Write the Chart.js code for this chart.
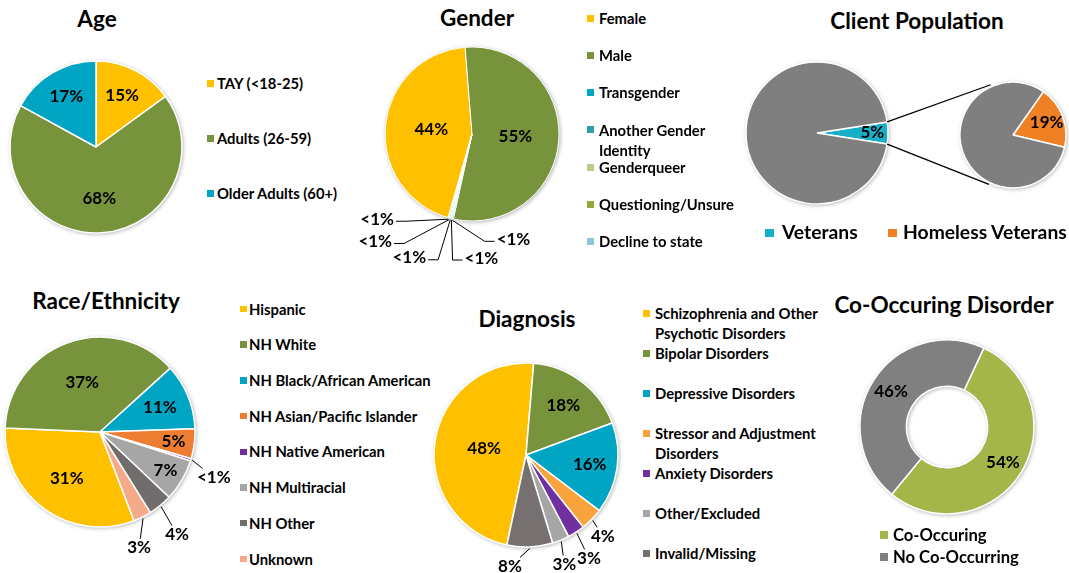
<!DOCTYPE html>
<html>
<head>
<meta charset="utf-8">
<script src="https://cdn.jsdelivr.net/npm/chart.js@4.4.1/dist/chart.umd.min.js"></script>
<style>
  body { margin: 0; width: 1069px; height: 573px; background: #fff; position: relative; overflow: hidden;
         font-family: Lato, "Open Sans", sans-serif; color: #000; }
  canvas { position: absolute; }
  .title { position: absolute; width: 320px; text-align: center; font-weight: bold; white-space: nowrap; }
  .leg { position: absolute; font-weight: bold; }
  .sq { position: absolute; }
</style>
</head>
<body>
<script>
// ---- data ----
var ageLabels = ['TAY (<18-25)', 'Adults (26-59)', 'Older Adults (60+)'];
var ageValues = [15, 68, 17];
var ageColors = ['#FFC000', '#77933C', '#00A5C3'];

var genderLabels = ['Female', 'Male', 'Transgender', 'Another Gender Identity', 'Genderqueer', 'Questioning/Unsure', 'Decline to state'];
var genderValues = [44.3, 54.7, 0.2, 0.2, 0.2, 0.2, 0.2];
var genderColors = ['#FFC000', '#77933C', '#00A5C3', '#2E9FA8', '#B5CC8E', '#8FA73B', '#8CC4DA'];

var clientLabels = ['Veterans', 'Homeless Veterans'];
var veteranShare = [5, 95];     // veterans vs. rest of clients
var homelessShare = [19, 81];   // homeless vs. rest of veterans
var clientColors = ['#17AFC8', '#F08024'];
var restColor = '#7F7F7F';

var raceLabels = ['Hispanic', 'NH White', 'NH Black/African American', 'NH Asian/Pacific Islander', 'NH Native American', 'NH Multiracial', 'NH Other', 'Unknown'];
var raceValues = [31, 37, 11, 5, 0.4, 7, 4, 3];
var raceColors = ['#FFC000', '#77933C', '#00A5C3', '#ED7D31', '#7030A0', '#A6A6A6', '#726D6D', '#F4A989'];

var diagLabels = ['Schizophrenia and Other Psychotic Disorders', 'Bipolar Disorders', 'Depressive Disorders', 'Stressor and Adjustment Disorders', 'Anxiety Disorders', 'Other/Excluded', 'Invalid/Missing'];
var diagValues = [48, 18, 16, 4, 3, 3, 8];
var diagColors = ['#FFC000', '#77933C', '#00A5C3', '#F9A33C', '#7030A0', '#A6A6A6', '#767070'];

var coLabels = ['Co-Occuring', 'No Co-Occurring'];
var coValues = [54, 46];
var coColors = ['#A4B64A', '#808080'];

// ---- plugins ----
var pieShadow = {
  id: 'pieShadow',
  beforeDatasetsDraw: function (chart) {
    var arc = chart.getDatasetMeta(0).data[0];
    var ctx = chart.ctx;
    ctx.save();
    ctx.shadowColor = 'rgba(0,0,0,0.35)';
    ctx.shadowBlur = 4;
    ctx.shadowOffsetX = 1;
    ctx.shadowOffsetY = 1;
    ctx.fillStyle = '#fff';
    ctx.beginPath();
    ctx.arc(arc.x, arc.y, arc.outerRadius, 0, Math.PI * 2);
    if (arc.innerRadius > 0) {
      ctx.moveTo(arc.x + arc.innerRadius, arc.y);
      ctx.arc(arc.x, arc.y, arc.innerRadius, 0, Math.PI * 2, true);
    }
    ctx.fill();
    ctx.restore();
  }
};

// percent labels, inside (radial fraction) or outside with a leader ([dx, dy] from slice edge)
var sliceText = {
  id: 'sliceText',
  afterDatasetsDraw: function (chart, args, opts) {
    var meta = chart.getDatasetMeta(0);
    var values = chart.data.datasets[0].data;
    var ctx = chart.ctx;
    ctx.save();
    ctx.font = 'bold ' + (opts.size || 17) + 'px Lato, sans-serif';
    ctx.textAlign = 'center';
    ctx.textBaseline = 'middle';
    ctx.fillStyle = '#000';
    ctx.strokeStyle = '#000';
    ctx.lineWidth = 1;
    meta.data.forEach(function (arc, i) {
      var spot = opts.spots[i];
      if (spot == null) return;
      var v = values[i];
      var text = v < 1 ? '<1%' : Math.round(v) + '%';
      var mid = (arc.startAngle + arc.endAngle) / 2;
      var cos = Math.cos(mid), sin = Math.sin(mid);
      if (typeof spot === 'number') {
        ctx.fillText(text, arc.x + cos * arc.outerRadius * spot, arc.y + sin * arc.outerRadius * spot);
        return;
      }
      var ax = arc.x + cos * (arc.outerRadius + 1.5);
      var ay = arc.y + sin * (arc.outerRadius + 1.5);
      var lx = ax + spot[0], ly = ay + spot[1];
      var w = ctx.measureText(text).width;
      ctx.beginPath();
      ctx.moveTo(ax, ay);
      if (opts.leader === 'elbow') {
        var side = lx > ax ? 1 : -1;
        var ex = lx - side * (w / 2 + 2), ey = ly + 2;
        ctx.lineTo(ex - side * 10, ey);
        ctx.lineTo(ex, ey);
      } else {
        var dx = ax - lx, dy = ay - ly;
        var t = Math.min((w / 2 + 3) / Math.max(Math.abs(dx), 1e-6), 9 / Math.max(Math.abs(dy), 1e-6));
        ctx.lineTo(lx + dx * t, ly + dy * t);
      }
      ctx.stroke();
      ctx.fillText(text, lx, ly);
    });
    ctx.restore();
  }
};

// ---- helpers ----
function makePie(cfg) {
  var c = document.createElement('canvas');
  c.id = cfg.id;
  c.width = cfg.box[2];
  c.height = cfg.box[3];
  c.style.left = cfg.box[0] + 'px';
  c.style.top = cfg.box[1] + 'px';
  document.body.appendChild(c);
  var ux = cfg.cx - cfg.box[0], uy = cfg.cy - cfg.box[1];
  var W = cfg.box[2], H = cfg.box[3];
  var pad = {
    left: ux > W / 2 ? 2 * ux - W : 0,
    right: ux > W / 2 ? 0 : W - 2 * ux,
    top: uy > H / 2 ? 2 * uy - H : 0,
    bottom: uy > H / 2 ? 0 : H - 2 * uy
  };
  return new Chart(c, {
    type: 'doughnut',
    data: {
      labels: cfg.labels,
      datasets: [{
        data: cfg.values,
        backgroundColor: cfg.colors,
        borderColor: '#fff',
        borderWidth: cfg.border || 1.5
      }]
    },
    options: {
      responsive: false,
      animation: false,
      events: [],
      radius: cfg.radius,
      cutout: cfg.cutout || 0,
      rotation: cfg.rotation || 0,
      layout: { padding: pad },
      plugins: {
        legend: { display: false },
        tooltip: { enabled: false },
        sliceText: { spots: cfg.spots, leader: cfg.leader }
      }
    },
    plugins: [pieShadow, sliceText].concat(cfg.plugins || [])
  });
}

function addTitle(text, cx, baseline, fs) {
  var d = document.createElement('div');
  d.className = 'title';
  d.textContent = text;
  d.style.fontSize = fs + 'px';
  d.style.lineHeight = (fs * 1.2) + 'px';
  d.style.left = (cx - 160) + 'px';
  d.style.top = (baseline - 0.987 * fs) + 'px';
  document.body.appendChild(d);
}

function addLegendItem(label, color, sqX, textX, cy, fs, width, sq) {
  var lh = Math.round(fs * 1.35);
  var d = document.createElement('div');
  d.className = 'leg';
  d.textContent = label;
  d.style.fontSize = fs + 'px';
  d.style.lineHeight = lh + 'px';
  d.style.left = textX + 'px';
  d.style.top = (cy - ((lh - 1.2 * fs) / 2 + 0.627 * fs)) + 'px';
  if (width) d.style.width = width + 'px'; else d.style.whiteSpace = 'nowrap';
  document.body.appendChild(d);
  var s = document.createElement('div');
  s.className = 'sq';
  s.style.cssText = 'left:' + sqX + 'px;top:' + (cy - sq / 2) + 'px;width:' + sq + 'px;height:' + sq + 'px;background:' + color + ';';
  document.body.appendChild(s);
}

function addLegend(labels, colors, sqX, textX, y0, pitch, fs, width, sq) {
  labels.forEach(function (l, i) {
    addLegendItem(l, colors[i], sqX, textX, y0 + i * pitch, fs, width, sq);
  });
}

// ---- Age ----
addTitle('Age', 97, 27, 22.5);
makePie({ id: 'age', box: [0, 50, 200, 200], cx: 96, cy: 147, radius: 86,
  labels: ageLabels, values: ageValues, colors: ageColors, rotation: 0,
  spots: [0.67, 0.6, 0.68] });
addLegend(ageLabels, ageColors, 207, 217, 83, 55, 14.8, 0, 7);

// ---- Gender ----
addTitle('Gender', 477, 26, 22.5);
makePie({ id: 'gender', box: [355, 40, 240, 235], cx: 472, cy: 134, radius: 87, border: 1,
  labels: genderLabels, values: genderValues, colors: genderColors, rotation: 196,
  spots: [0.47, 0.5, [61, 19], [30, 38], [-41, 38], [-74, 22], [-71, 0]], leader: 'elbow' });
addLegend(genderLabels, genderColors, 587, 599, 18, 37.3, 14.8, 152, 7);

// ---- Client Population (pie of pie) ----
addTitle('Client Population', 917, 29, 22.5);
var cpBig = makePie({ id: 'cpBig', box: [740, 45, 329, 175], cx: 817, cy: 133, radius: 71,
  labels: ['Veterans', 'Other clients'], values: veteranShare, colors: [clientColors[0], restColor], rotation: 81,
  spots: [0.78, null] });
var connectors = {
  id: 'connectors',
  afterDraw: function (chart) {
    var big = cpBig.getDatasetMeta(0).data[0];
    var small = chart.getDatasetMeta(0).data[0];
    var ctx = chart.ctx;
    var a1 = 246 * Math.PI / 180, a2 = 116 * Math.PI / 180;
    var r = small.outerRadius + 2;
    ctx.save();
    ctx.strokeStyle = '#000';
    ctx.lineWidth = 1.3;
    ctx.beginPath();
    ctx.moveTo(big.x + Math.cos(big.startAngle) * big.outerRadius, big.y + Math.sin(big.startAngle) * big.outerRadius);
    ctx.lineTo(small.x + Math.cos(a1) * r, small.y + Math.sin(a1) * r);
    ctx.moveTo(big.x + Math.cos(big.endAngle) * big.outerRadius, big.y + Math.sin(big.endAngle) * big.outerRadius);
    ctx.lineTo(small.x + Math.cos(a2) * r, small.y + Math.sin(a2) * r);
    ctx.stroke();
    ctx.restore();
  }
};
makePie({ id: 'cpSmall', box: [740, 45, 329, 175], cx: 1013, cy: 135, radius: 53,
  labels: ['Homeless Veterans', 'Other veterans'], values: homelessShare, colors: [clientColors[1], restColor], rotation: 35,
  spots: [0.68, null], plugins: [connectors] });
addLegendItem(clientLabels[0], clientColors[0], 765, 782, 233, 19.3, 0, 8.5);
addLegendItem(clientLabels[1], clientColors[1], 888, 903, 233, 19.3, 0, 8.5);

// ---- Race/Ethnicity ----
addTitle('Race/Ethnicity', 106, 309, 22.5);
makePie({ id: 'race', box: [0, 325, 240, 245], cx: 100, cy: 432, radius: 95,
  labels: raceLabels, values: raceValues, colors: raceColors, rotation: 159,
  spots: [0.6, 0.55, 0.68, 0.78, [21.5, 17], 0.8, [16, 28], [-4, 29.5]] });
addLegend(raceLabels, raceColors, 240, 249, 309, 35.7, 14.8, 0, 6.5);

// ---- Diagnosis ----
addTitle('Diagnosis', 527, 327, 22.5);
makePie({ id: 'diag', box: [420, 355, 210, 218], cx: 526, cy: 455, radius: 92,
  labels: diagLabels, values: diagValues, colors: diagColors, rotation: 192,
  spots: [0.46, 0.67, 0.7, [10, 16], [12, 25], [3, 23], [-20, 18]] });
addLegend(diagLabels, diagColors, 643, 655, 313, 40, 14.8, 190, 7);

// ---- Co-Occuring Disorder ----
addTitle('Co-Occuring Disorder', 944, 313, 22.5);
makePie({ id: 'coocc', box: [850, 330, 200, 200], cx: 947, cy: 427, radius: 87, cutout: 45,
  labels: coLabels, values: coValues, colors: coColors, rotation: 25,
  spots: [0.76, 0.76] });
addLegend(coLabels, coColors, 880, 893, 535, 22, 16.6, 0, 8);
</script>
</body>
</html>
